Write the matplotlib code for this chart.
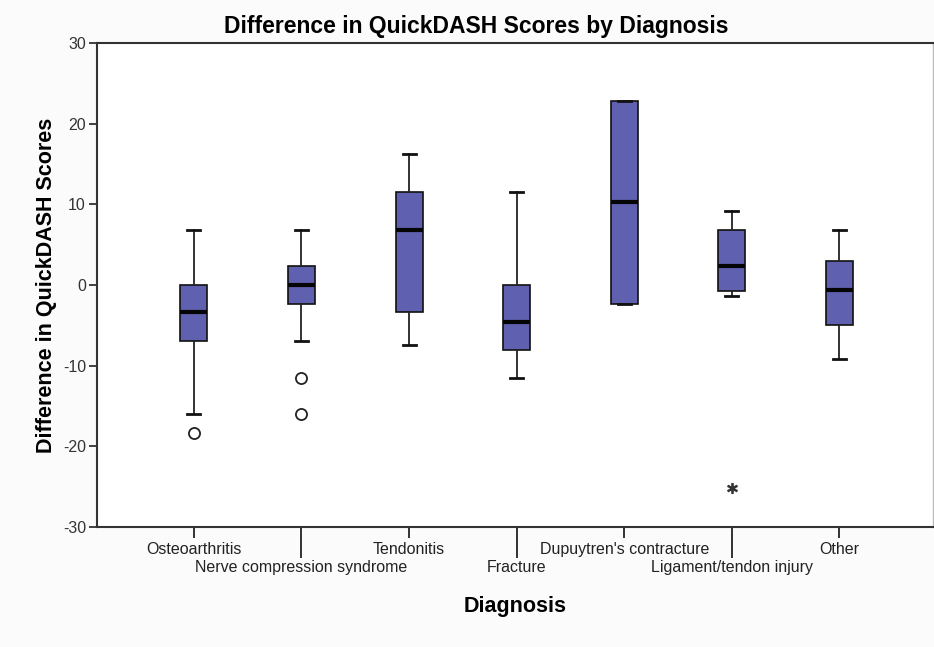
import matplotlib.pyplot as plt
from matplotlib.ticker import FixedLocator

# box plot summary per diagnosis
diagnoses = ["Osteoarthritis", "Nerve compression syndrome", "Tendonitis", "Fracture",
             "Dupuytren's contracture", "Ligament/tendon injury", "Other"]
whisker_low = [-16.0, -6.9, -7.5, -11.5, -2.4, -1.4, -9.2]
q1 = [-6.9, -2.4, -3.4, -8.0, -2.4, -0.7, -5.0]
medians = [-3.4, 0.0, 6.8, -4.6, 10.3, 2.3, -0.6]
q3 = [0.0, 2.3, 11.5, 0.0, 22.8, 6.8, 3.0]
whisker_high = [6.8, 6.8, 16.2, 11.5, 22.8, 9.2, 6.8]
outliers = [[-18.3], [-11.5, -16.0], [], [], [], [], []]
extremes = [[], [], [], [], [], [-25.2], []]

plt.rcParams['font.family'] = ['Liberation Sans', 'DejaVu Sans']
plt.rcParams['axes.unicode_minus'] = False

fig = plt.figure(figsize=(9.34, 6.47), dpi=100, facecolor='#fbfbfb')
ax = fig.add_axes([0.1039, 0.1855, 0.8951, 0.748])
ax.set_facecolor('white')

stats = []
for i, name in enumerate(diagnoses):
    stats.append({'label': name, 'whislo': whisker_low[i], 'q1': q1[i], 'med': medians[i],
                  'q3': q3[i], 'whishi': whisker_high[i], 'fliers': outliers[i]})

pos = list(range(len(diagnoses)))
ax.bxp(stats, positions=pos, widths=0.25, capwidths=0.12, patch_artist=True,
       boxprops=dict(facecolor='#6060b0', edgecolor='#111111', linewidth=1.2),
       medianprops=dict(color='#050505', linewidth=3),
       whiskerprops=dict(color='#222222', linewidth=1.3),
       capprops=dict(color='#111111', linewidth=2),
       flierprops=dict(marker='o', markerfacecolor='none', markeredgecolor='#222222',
                       markersize=8, markeredgewidth=1.3))

# extreme values drawn as asterisks
for i, vals in enumerate(extremes):
    if vals:
        ax.plot([pos[i]] * len(vals), vals, linestyle='none', marker='$*$',
                markersize=7, color='#333333')

ax.set_xlim(-0.9, 6.87)
ax.set_ylim(-30, 30)
ax.set_yticks([-30, -20, -10, 0, 10, 20, 30])

# staggered category labels: even on top row, odd on lower row with longer ticks
ax.xaxis.set_major_locator(FixedLocator(pos[0::2]))
ax.xaxis.set_minor_locator(FixedLocator(pos[1::2]))
ax.set_xticklabels(diagnoses[0::2])
ax.set_xticklabels(diagnoses[1::2], minor=True)
ax.tick_params(axis='x', which='major', length=8, width=1.3, pad=3, labelsize=11.5,
               colors='#222222')
ax.tick_params(axis='x', which='minor', length=22, width=1.3, pad=2, labelsize=11.5,
               colors='#222222')
ax.tick_params(axis='y', length=6, width=1.3, pad=2, labelsize=11.5, colors='#333333')

for s in ax.spines.values():
    s.set_linewidth(1.5)
    s.set_color('#333333')
ax.spines['right'].set_color('#bbbbbb')
ax.spines['right'].set_linewidth(1)

ax.set_title("Difference in QuickDASH Scores by Diagnosis", fontsize=16.5, fontweight='bold',
             x=0.453, pad=7)
ax.set_xlabel("Diagnosis", fontsize=15.5, fontweight='bold', labelpad=15)
ax.set_ylabel("Difference in QuickDASH Scores", fontsize=15.5, fontweight='bold', labelpad=4)

fig.savefig("out.png", dpi=100, facecolor=fig.get_facecolor())
